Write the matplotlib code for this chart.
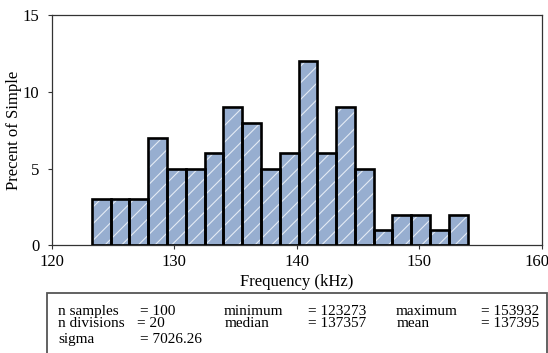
import numpy as np
import matplotlib
matplotlib.use("Agg")
import matplotlib.pyplot as plt
from matplotlib.patches import Rectangle
from matplotlib.transforms import offset_copy

plt.rcParams['font.family'] = ['Liberation Serif', 'DejaVu Serif']
plt.rcParams['hatch.linewidth'] = 0.8

# ---- data ----
sample_min = 123.273   # kHz
sample_max = 153.932   # kHz
n_divisions = 20
percent = [3, 3, 3, 7, 5, 5, 6, 9, 8, 5, 6, 12, 6, 9, 5, 1, 2, 2, 1, 2]
x_ticks = [120, 130, 140, 150, 160]
y_ticks = [0, 5, 10, 15]

stats_rows = [
    [("n samples", "= 100"), ("minimum", "= 123273"), ("maximum", "= 153932")],
    [("n divisions", "= 20"), ("median", "= 137357"), ("mean", "= 137395")],
    [("sigma", "= 7026.26")],
]

W, H = 548, 353
fig = plt.figure(figsize=(W / 100, H / 100), dpi=100)

def fx(px):
    return px / W

def fy(py):
    return 1 - py / H

ax_l, ax_r, ax_t, ax_b = 51.7, 542, 15.3, 245.3
ax = fig.add_axes([fx(ax_l), fy(ax_b), fx(ax_r - ax_l), (ax_b - ax_t) / H])

edges = np.linspace(sample_min, sample_max, n_divisions + 1)
widths = np.diff(edges)
fill_color = '#97aed0'
ax.bar(edges[:-1], percent, width=widths, align='edge', color=fill_color,
       edgecolor='#e4ebf4', hatch='//', linewidth=0, zorder=2)
ax.bar(edges[:-1], percent, width=widths, align='edge', fill=False,
       edgecolor='black', linewidth=1.9, zorder=3)

ax.set_xlim(120, 160)
ax.set_ylim(0, 15)
ax.set_xticks(x_ticks)
ax.set_yticks(y_ticks)
ax.tick_params(direction='out', length=3, width=0.8, labelsize=12, color='#333333')
ax.tick_params(axis='x', pad=3)
ax.tick_params(axis='y', pad=6)
for s in ax.spines.values():
    s.set_color('#333333')
    s.set_linewidth(0.9)
ax.set_xlabel('Frequency (kHz)', fontsize=12, labelpad=3)
fig.text(fx(14), fy((ax_t + ax_b) / 2), 'Precent of Simple', fontsize=12,
         rotation=90, ha='center', va='center')

fig.canvas.draw()
last = ax.get_xticklabels()[-1]
last.set_transform(offset_copy(last.get_transform(), fig=fig, x=-5, y=0, units='dots'))

# stats box
box = Rectangle((fx(47.3), fy(360)), fx(546.7 - 47.3), (360 - 293.3) / H,
                transform=fig.transFigure, fill=False, edgecolor='#555555',
                linewidth=1.3, clip_on=False)
fig.patches.append(box)

row_y = [315, 327, 343]
label_x = [[58.3, 224, 395.7], [58.3, 225, 396.7], [58.3]]
value_x = [[140, 308, 481], [137.3, 308, 481], [140]]
for r, row in enumerate(stats_rows):
    for c, (lab, val) in enumerate(row):
        fig.text(fx(label_x[r][c]), fy(row_y[r]), lab, fontsize=11, va='baseline', ha='left')
        fig.text(fx(value_x[r][c]), fy(row_y[r]), val, fontsize=11, va='baseline', ha='left')

fig.savefig('out.png', dpi=100)
